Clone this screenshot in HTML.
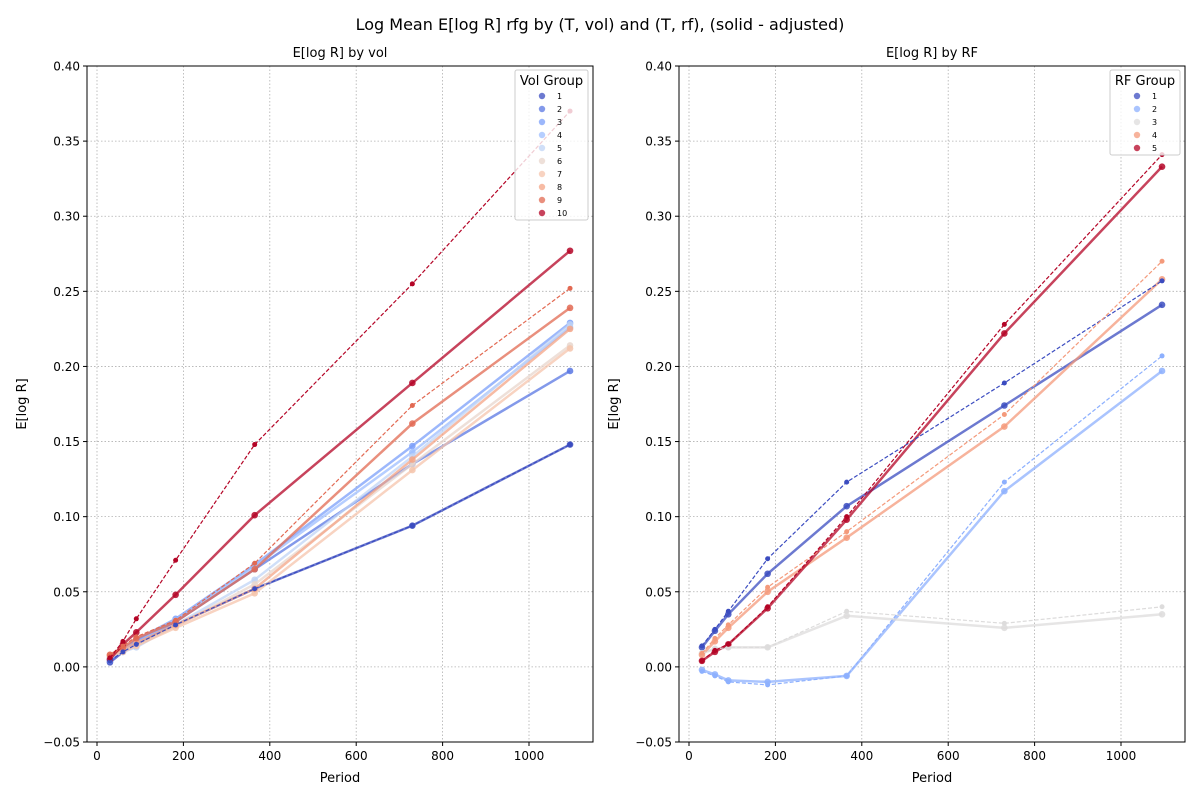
<!DOCTYPE html>
<html><head><meta charset="utf-8"><style>
body{margin:0;background:#fff;font-family:"Liberation Sans","DejaVu Sans",sans-serif;}
svg text{font-family:"DejaVu Sans","Liberation Sans",sans-serif;}
</style></head><body>
<svg id="chart" width="1200" height="800"></svg>
<script>
const periods=[30,60,91,182,365,730,1095];
const xTicks=[0,200,400,600,800,1000];
const yTicks=[-0.05,0,0.05,0.1,0.15,0.2,0.25,0.3,0.35,0.4];
const volLabels=['1','2','3','4','5','6','7','8','9','10'];
const volColors=['#3b4cc0','#5977e3','#7b9ff9','#9ebeff','#c0d4f5','#e8d6cc','#f5c4ac','#f4a486','#e26952','#b40426'];
const volSolid=[
[0.003,0.010,0.015,0.028,0.052,0.094,0.148],
[0.004,0.011,0.017,0.030,0.065,0.135,0.197],
[0.005,0.012,0.018,0.032,0.068,0.147,0.229],
[0.006,0.011,0.016,0.031,0.067,0.143,0.226],
[0.006,0.010,0.013,0.028,0.058,0.140,0.228],
[0.007,0.011,0.014,0.027,0.055,0.135,0.214],
[0.007,0.010,0.014,0.026,0.049,0.131,0.212],
[0.008,0.012,0.016,0.028,0.052,0.138,0.225],
[0.008,0.013,0.019,0.030,0.065,0.162,0.239],
[0.005,0.015,0.023,0.048,0.101,0.189,0.277]];
const volDashedIdx=[0,8,9];
const volDashed=[
[0.004,0.010,0.015,0.028,0.052,0.094,0.148],
[0.007,0.014,0.020,0.031,0.069,0.174,0.252],
[0.006,0.017,0.032,0.071,0.148,0.255,0.370]];
const rfLabels=['1','2','3','4','5'];
const rfColors=['#3b4cc0','#8db0fe','#dddcdc','#f49a7b','#b40426'];
const rfSolid=[
[0.013,0.024,0.035,0.062,0.107,0.174,0.241],
[-0.002,-0.005,-0.009,-0.010,-0.006,0.117,0.197],
[0.009,0.012,0.013,0.013,0.034,0.026,0.035],
[0.008,0.017,0.026,0.050,0.086,0.160,0.258],
[0.004,0.010,0.015,0.039,0.098,0.222,0.333]];
const rfDashed=[
[0.014,0.025,0.037,0.072,0.123,0.189,0.257],
[-0.003,-0.006,-0.010,-0.012,-0.006,0.123,0.207],
[0.009,0.012,0.013,0.013,0.037,0.029,0.040],
[0.009,0.019,0.028,0.053,0.090,0.168,0.270],
[0.004,0.011,0.015,0.040,0.100,0.228,0.341]];

const NS='http://www.w3.org/2000/svg';
const svg=document.getElementById('chart');
function el(tag,attrs,parent){const e=document.createElementNS(NS,tag);for(const k in attrs)e.setAttribute(k,attrs[k]);(parent||svg).appendChild(e);return e;}
function txt(s,attrs,parent){const e=el('text',attrs,parent);e.textContent=s;return e;}

const t=txt('Log Mean E[log R] rfg by (T, vol) and (T, rf), (solid - adjusted)',{x:600,y:30,'text-anchor':'middle','font-size':16});



function panel(px,title,name,legTitle,labels,colors,solid,dashed,dashedIdx,legBox){
  const L=px,R=px+506,T=66,B=742;
  const x0=L+10, xs=0.432;
  const X=v=>x0+v*xs;
  const Y=v=>T+(0.4-v)*1502.2;
  const g=el('g',{});
  
  
  xTicks.forEach(v=>{
    el('line',{x1:X(v),x2:X(v),y1:T,y2:B,stroke:'#b0b0b0','stroke-dasharray':'1.5,2','stroke-width':0.8},g);
    el('line',{x1:X(v),x2:X(v),y1:B,y2:B+4,stroke:'#000'},g);
    const l=txt(String(v),{x:X(v),y:B+18,'text-anchor':'middle','font-size':12},g);
    
    
  });
  yTicks.forEach(v=>{
    el('line',{x1:L,x2:R,y1:Y(v),y2:Y(v),stroke:'#b0b0b0','stroke-dasharray':'1.5,2','stroke-width':0.8},g);
    el('line',{x1:L-4,x2:L,y1:Y(v),y2:Y(v),stroke:'#000'},g);
    const s=(v<0?'\u2212':'')+Math.abs(v).toFixed(2);
    const l=txt(s,{x:L-7,y:Y(v)+4.5,'text-anchor':'end','font-size':12},g);
    
    
  });
  function series(vals,color,dash,nm){
    const pts=periods.map((p,i)=>X(p)+','+Y(vals[i])).join(' ');
    const pl=el('polyline',{points:pts,fill:'none',stroke:color,'stroke-width':dash?1.2:2.5,'stroke-opacity':dash?1:0.75,'stroke-dasharray':dash?'4,2':'none'},g);
    
    
    periods.forEach((p,i)=>{
      const c=el('circle',{cx:X(p),cy:Y(vals[i]),r:dash?2.5:3.3,fill:color,'fill-opacity':dash?1:0.85},g);
      
      
    });
  }
  solid.forEach((s,i)=>series(s,colors[i],false,'solid-line-'+labels[i]));
  dashed.forEach((s,j)=>{const i=dashedIdx?dashedIdx[j]:j;series(s,colors[i],true,'dashed-line-'+labels[i]);});
  el('rect',{x:L,y:T,width:R-L,height:B-T,fill:'none',stroke:'#000','stroke-width':1},g);
  const st=txt(title,{x:(L+R)/2,y:57,'text-anchor':'middle','font-size':13},g);
  
  
  const xl=txt('Period',{x:(L+R)/2,y:782,'text-anchor':'middle','font-size':13},g);
  
  
  const yl=txt('E[log R]',{x:0,y:0,'text-anchor':'middle','font-size':13,transform:`translate(${L-61},${(T+B)/2}) rotate(-90)`},g);
  
  
  const lg=el('g',{},g);
  
  
  el('rect',{x:legBox[0],y:legBox[1],width:legBox[2],height:legBox[3],fill:'#fff','fill-opacity':0.8,stroke:'#ccc',rx:2},lg);
  txt(legTitle,{x:legBox[0]+legBox[2]/2,y:legBox[1]+15,'text-anchor':'middle','font-size':13},lg);
  labels.forEach((lab,i)=>{
    const yy=legBox[1]+26+i*13;
    const e=el('g',{},lg);
    
    
    el('circle',{cx:legBox[0]+27,cy:yy,r:3.2,fill:colors[i],'fill-opacity':0.75},e);
    txt(lab,{x:legBox[0]+42,y:yy+3,'font-size':8},e);
  });
}
panel(87,'E[log R] by vol','vol-panel','Vol Group',volLabels,volColors,volSolid,volDashed,volDashedIdx,[515,70,73,150]);
panel(679,'E[log R] by RF','rf-panel','RF Group',rfLabels,rfColors,rfSolid,rfDashed,null,[1110,70,70,85]);
</script>
</body></html>
